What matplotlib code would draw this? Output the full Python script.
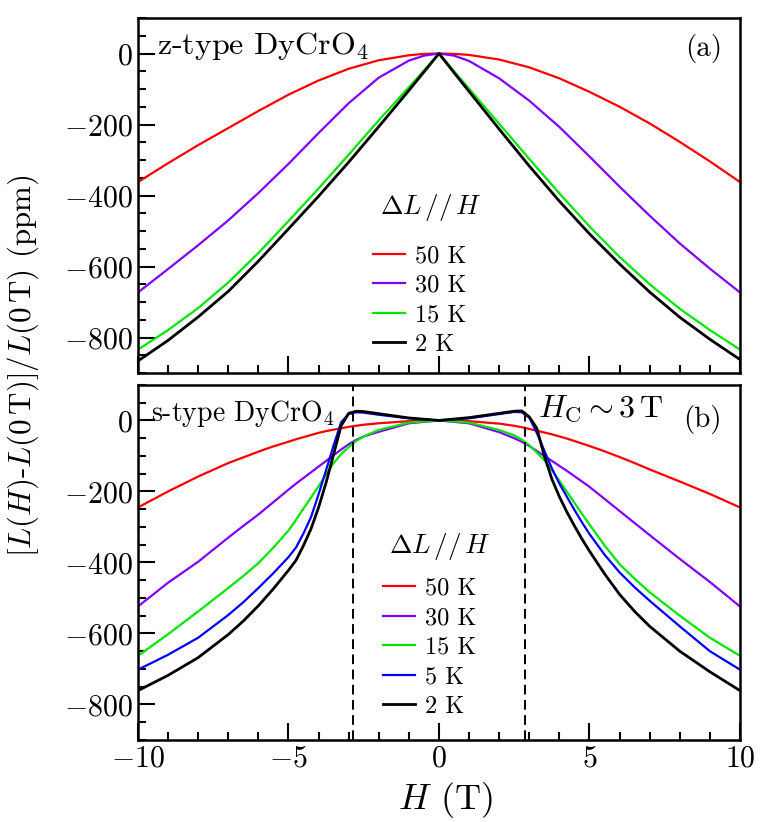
import numpy as np
import matplotlib
matplotlib.use('Agg')
import matplotlib.pyplot as plt
from matplotlib.ticker import MultipleLocator

plt.rcParams['font.family'] = 'cmr10'
plt.rcParams['mathtext.fontset'] = 'cm'
plt.rcParams['axes.formatter.use_mathtext'] = True

# panel (a): z-type
H_a = [-10, -9, -8, -7, -6, -5, -4, -3, -2, -1, -0.5, 0, 0.5, 1, 2, 3, 4, 5, 6, 7, 8, 9, 10]
a_50K = [-362, -309, -258, -210, -162, -116, -76, -43, -19, -5, -1, 0, -1, -4, -17, -39, -70, -108, -150, -197, -249, -304, -362]
a_30K = [-673, -607, -540, -470, -393, -311, -224, -140, -68, -20, -6, 0, -6, -21, -70, -133, -207, -290, -375, -457, -535, -606, -673]
a_15K = [-834, -779, -717, -645, -562, -472, -380, -285, -188, -95, -48, 0, -50, -99, -198, -297, -394, -487, -573, -650, -719, -779, -834]
a_2K = [-866, -808, -742, -670, -585, -494, -402, -306, -206, -104, -52, 0, -54, -107, -213, -317, -416, -508, -593, -672, -743, -805, -862]

# panel (b): s-type
H_b = [-10, -9, -8, -7, -6.5, -6, -5.5, -5, -4.75, -4.5, -4.25, -4, -3.75, -3.5, -3.25, -3,
       -2.75, -2.5, -2, -1, 0, 1, 2, 2.5, 2.75, 3, 3.25, 3.5, 3.75, 4, 4.25, 4.5, 4.75, 5,
       5.5, 6, 6.5, 7, 8, 9, 10]
b_50K = [-245, -200, -158, -120, -104, -88, -73, -60, -53, -47, -41, -35, -30, -26, -22, -18,
         -15, -12, -8, -2, 0, -2, -9, -15, -19, -24, -29, -34, -39, -45, -51, -58, -65, -72,
         -87, -103, -120, -138, -172, -207, -245]
b_30K = [-524, -457, -398, -330, -297, -265, -230, -195, -178, -162, -146, -130, -114, -98, -82, -67,
         -55, -45, -32, -8, 0, -8, -33, -50, -60, -72, -86, -100, -114, -128, -142, -157, -172, -187,
         -221, -255, -289, -323, -390, -455, -524]
b_15K = [-663, -602, -538, -472, -438, -402, -358, -310, -280, -248, -217, -185, -152, -120, -95, -75,
         -58, -45, -27, -6, 0, -6, -27, -42, -54, -70, -90, -112, -140, -170, -201, -232, -263, -293,
         -352, -405, -446, -484, -550, -612, -663]
b_5K = [-702, -660, -612, -548, -512, -472, -430, -385, -358, -318, -272, -208, -140, -70, -5, 18,
        23, 22, 16, 6, 0, 6, 18, 24, 23, 8, -35, -85, -135, -178, -215, -252, -287, -320,
        -378, -428, -470, -508, -580, -650, -702]
b_2K = [-761, -718, -668, -603, -565, -522, -474, -422, -394, -352, -305, -245, -175, -95, -15, 20,
        26, 25, 19, 7, 0, 8, 20, 26, 27, 10, -22, -100, -165, -215, -258, -297, -334, -368,
        -432, -490, -538, -580, -650, -708, -761]

H_c = 2.85

labels_a = ['50 K', '30 K', '15 K', '2 K']
labels_b = ['50 K', '30 K', '15 K', '5 K', '2 K']
colors_a = ['#ff0000', '#8000ff', '#00e600', 'k']
colors_b = ['#ff0000', '#8000ff', '#00e600', '#0000ff', 'k']

fig = plt.figure(figsize=(7.61, 8.22), dpi=100)
ax1 = fig.add_axes([0.1813, 0.5462, 0.7911, 0.4319])
ax2 = fig.add_axes([0.1813, 0.0998, 0.7911, 0.4319])

for y, c, l in zip([a_50K, a_30K, a_15K, a_2K], colors_a, labels_a):
    ax1.plot(H_a, y, color=c, lw=1.6 if c != 'k' else 2.0, label=l)
for y, c, l in zip([b_50K, b_30K, b_15K, b_5K, b_2K], colors_b, labels_b):
    ax2.plot(H_b, y, color=c, lw=1.6 if c != 'k' else 2.0, label=l)

ax2.axvline(-H_c, color='k', ls=(0, (5, 2.8)), lw=1.4)
ax2.axvline(H_c, color='k', ls=(0, (5, 2.8)), lw=1.4)

for ax in (ax1, ax2):
    ax.set_xlim(-10, 10)
    ax.set_ylim(-900, 100)
    ax.xaxis.set_major_locator(MultipleLocator(5))
    ax.xaxis.set_minor_locator(MultipleLocator(1))
    ax.yaxis.set_major_locator(MultipleLocator(200))
    ax.yaxis.set_minor_locator(MultipleLocator(50))
    ax.tick_params(which='both', direction='in', top=False, right=False, labelsize=21.5, width=1.5)
    ax.tick_params(which='major', length=12)
    ax.tick_params(which='minor', length=6)
    for s in ax.spines.values():
        s.set_linewidth(1.8)
ax1.tick_params(labelbottom=False)

ax1.text(0.032, 0.965, 'z-type DyCrO$_4$', transform=ax1.transAxes, fontsize=23, va='top', ha='left')
ax1.text(0.970, 0.955, '(a)', transform=ax1.transAxes, fontsize=21, va='top', ha='right')
ax2.text(0.021, 0.963, 's-type DyCrO$_4$', transform=ax2.transAxes, fontsize=20, va='top', ha='left')
ax2.text(0.970, 0.944, '(b)', transform=ax2.transAxes, fontsize=21, va='top', ha='right')
ax2.text(0.664, 0.977, '$H_{\\mathrm{C}}\\sim3\\,\\mathrm{T}$', transform=ax2.transAxes, fontsize=23, va='top', ha='left')

title = '$\\Delta L\\,//\\,H$'
ax1.text(0.487, 0.465, title, transform=ax1.transAxes, fontsize=19.5, ha='center', va='center')
ax2.text(0.502, 0.5445, title, transform=ax2.transAxes, fontsize=19.5, ha='center', va='center')

ax1.legend(loc='upper left', bbox_to_anchor=(0.39, 0.36), frameon=False, fontsize=17.5,
           handlelength=1.32, handletextpad=0.41, labelspacing=0.3, borderpad=0, borderaxespad=0)
ax2.legend(loc='upper left', bbox_to_anchor=(0.407, 0.457), frameon=False, fontsize=17.5,
           handlelength=1.32, handletextpad=0.41, labelspacing=0.3, borderpad=0, borderaxespad=0)

fig.text(0.585, 0.0268, '$H$ (T)', fontsize=26, ha='center', va='center')
fig.text(0.030, 0.555, '$[L(H)$-$L(0\\,\\mathrm{T})]/L(0\\,\\mathrm{T})$ (ppm)', rotation=90,
         fontsize=22.3, ha='center', va='center')

fig.savefig('out.png', dpi=100)
